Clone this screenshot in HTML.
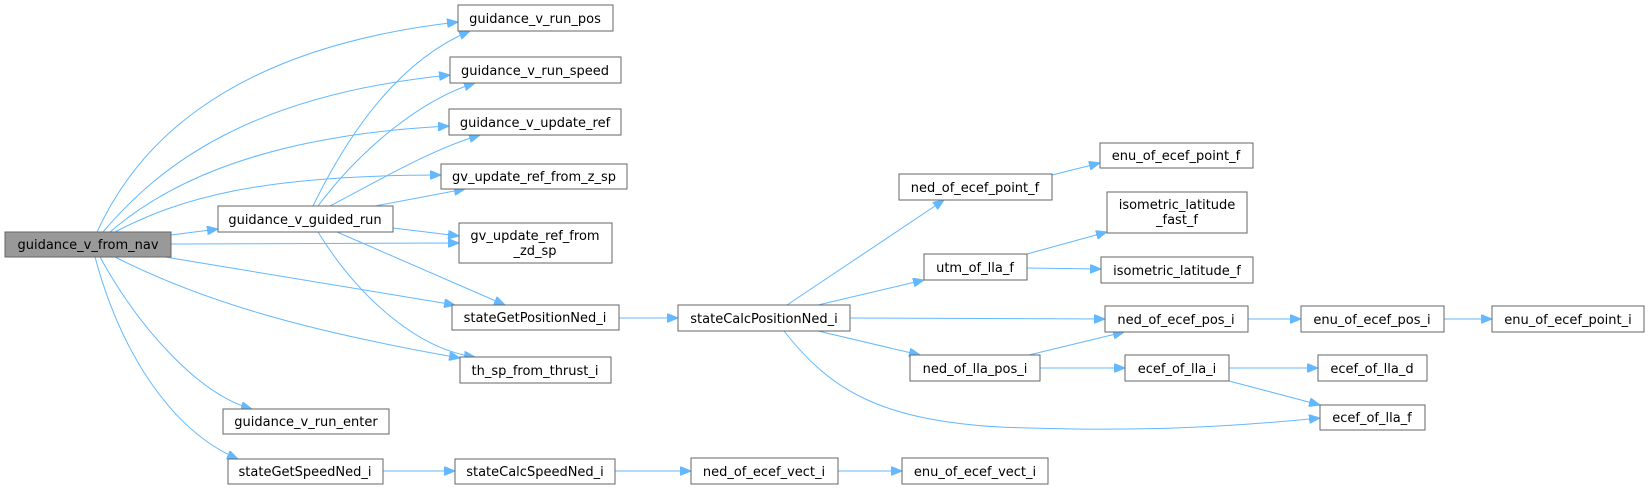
<!DOCTYPE html>
<html><head><meta charset="utf-8"><style>
html,body{margin:0;padding:0;background:#fff;}
svg{display:block;}
text{font-family:"DejaVu Sans","Liberation Sans",sans-serif;font-size:13px;fill:#000;}
.b{fill:#fff;stroke:#666;stroke-width:1;}
.e{fill:none;stroke:#63b8ff;stroke-width:1;}
</style></head><body>
<svg width="1649" height="489" viewBox="0 0 1649 489" xmlns="http://www.w3.org/2000/svg">
<defs><marker id="a" markerWidth="12" markerHeight="9" refX="11" refY="4.5" orient="auto" markerUnits="userSpaceOnUse"><path d="M0,0 L11,4.5 L0,9 z" fill="#63b8ff" stroke="#63b8ff"/></marker></defs>
<g class="edges">
<path class="e" marker-end="url(#a)" d="M97,232 C130,160 210,50 458,22"/>
<path class="e" marker-end="url(#a)" d="M103,232 C160,165 250,95 450,75"/>
<path class="e" marker-end="url(#a)" d="M110,232 C170,180 270,135 449,126"/>
<path class="e" marker-end="url(#a)" d="M115,232 C180,198 260,175 441,175"/>
<path class="e" marker-end="url(#a)" d="M171,235 L218,229"/>
<path class="e" marker-end="url(#a)" d="M171,244 L459,243"/>
<path class="e" marker-end="url(#a)" d="M165,257 L455,305"/>
<path class="e" marker-end="url(#a)" d="M115,257 C200,300 300,330 460,358"/>
<path class="e" marker-end="url(#a)" d="M100,257 C140,330 200,395 252,409"/>
<path class="e" marker-end="url(#a)" d="M95,257 C120,350 170,430 238,459"/>
<path class="e" marker-end="url(#a)" d="M313,206 C350,130 400,60 470,31"/>
<path class="e" marker-end="url(#a)" d="M318,206 C360,150 420,100 475,83"/>
<path class="e" marker-end="url(#a)" d="M330,206 C380,180 430,150 480,135"/>
<path class="e" marker-end="url(#a)" d="M375,206 L465,189"/>
<path class="e" marker-end="url(#a)" d="M393,228 L459,236"/>
<path class="e" marker-end="url(#a)" d="M337,232 L505,305"/>
<path class="e" marker-end="url(#a)" d="M318,232 C360,300 420,350 475,357"/>
<path class="e" marker-end="url(#a)" d="M619,318 L678,318"/>
<path class="e" marker-end="url(#a)" d="M787,305 L944,200"/>
<path class="e" marker-end="url(#a)" d="M818,305 L924,280"/>
<path class="e" marker-end="url(#a)" d="M850,318 L1105,319"/>
<path class="e" marker-end="url(#a)" d="M818,331 L920,355"/>
<path class="e" marker-end="url(#a)" d="M784,331 C830,390 880,420 1000,427 C1130,432 1220,428 1320,418"/>
<path class="e" marker-end="url(#a)" d="M1052,175 L1100,163"/>
<path class="e" marker-end="url(#a)" d="M1027,254 L1107,232"/>
<path class="e" marker-end="url(#a)" d="M1027,268 L1101,269"/>
<path class="e" marker-end="url(#a)" d="M1248,319 L1301,319"/>
<path class="e" marker-end="url(#a)" d="M1444,319 L1492,319"/>
<path class="e" marker-end="url(#a)" d="M1029,355 L1124,332"/>
<path class="e" marker-end="url(#a)" d="M1040,368 L1125,368"/>
<path class="e" marker-end="url(#a)" d="M1229,368 L1318,368"/>
<path class="e" marker-end="url(#a)" d="M1229,381 L1320,405"/>
<path class="e" marker-end="url(#a)" d="M383,471 L455,471"/>
<path class="e" marker-end="url(#a)" d="M615,471 L691,471"/>
<path class="e" marker-end="url(#a)" d="M838,471 L902,471"/>
</g>
<g text-anchor="middle">
<rect x="5" y="232" width="166" height="25" fill="#999" stroke="#666"/><text x="88" y="249">guidance_v_from_nav</text>
<rect class="b" x="218" y="206" width="175" height="26"/><text x="305" y="224">guidance_v_guided_run</text>
<rect class="b" x="458" y="5" width="155" height="26"/><text x="535" y="23">guidance_v_run_pos</text>
<rect class="b" x="450" y="57" width="171" height="26"/><text x="535" y="75">guidance_v_run_speed</text>
<rect class="b" x="449" y="109" width="172" height="26"/><text x="535" y="127">guidance_v_update_ref</text>
<rect class="b" x="441" y="164" width="186" height="25"/><text x="534" y="181">gv_update_ref_from_z_sp</text>
<rect class="b" x="459" y="223" width="153" height="40"/><text x="535" y="240">gv_update_ref_from</text><text x="535" y="255">_zd_sp</text>
<rect class="b" x="452" y="305" width="167" height="25"/><text x="535" y="322">stateGetPositionNed_i</text>
<rect class="b" x="460" y="357" width="151" height="26"/><text x="535" y="375">th_sp_from_thrust_i</text>
<rect class="b" x="223" y="409" width="166" height="25"/><text x="306" y="426">guidance_v_run_enter</text>
<rect class="b" x="228" y="459" width="155" height="25"/><text x="305" y="476">stateGetSpeedNed_i</text>
<rect class="b" x="455" y="459" width="160" height="25"/><text x="535" y="476">stateCalcSpeedNed_i</text>
<rect class="b" x="678" y="305" width="172" height="26"/><text x="764" y="323">stateCalcPositionNed_i</text>
<rect class="b" x="899" y="174" width="153" height="26"/><text x="975" y="192">ned_of_ecef_point_f</text>
<rect class="b" x="1100" y="143" width="153" height="25"/><text x="1176" y="160">enu_of_ecef_point_f</text>
<rect class="b" x="1107" y="192" width="140" height="41"/><text x="1177" y="209">isometric_latitude</text><text x="1177" y="224">_fast_f</text>
<rect class="b" x="924" y="254" width="103" height="26"/><text x="975" y="272">utm_of_lla_f</text>
<rect class="b" x="1101" y="257" width="152" height="26"/><text x="1177" y="275">isometric_latitude_f</text>
<rect class="b" x="1105" y="306" width="143" height="26"/><text x="1176" y="324">ned_of_ecef_pos_i</text>
<rect class="b" x="1301" y="306" width="143" height="26"/><text x="1372" y="324">enu_of_ecef_pos_i</text>
<rect class="b" x="1492" y="306" width="152" height="26"/><text x="1568" y="324">enu_of_ecef_point_i</text>
<rect class="b" x="910" y="355" width="130" height="26"/><text x="975" y="373">ned_of_lla_pos_i</text>
<rect class="b" x="1125" y="355" width="104" height="26"/><text x="1177" y="373">ecef_of_lla_i</text>
<rect class="b" x="1318" y="355" width="109" height="26"/><text x="1372" y="373">ecef_of_lla_d</text>
<rect class="b" x="1320" y="405" width="105" height="25"/><text x="1372" y="422">ecef_of_lla_f</text>
<rect class="b" x="691" y="458" width="147" height="26"/><text x="764" y="476">ned_of_ecef_vect_i</text>
<rect class="b" x="902" y="458" width="146" height="26"/><text x="975" y="476">enu_of_ecef_vect_i</text>
</g>
</svg>
</body></html>
